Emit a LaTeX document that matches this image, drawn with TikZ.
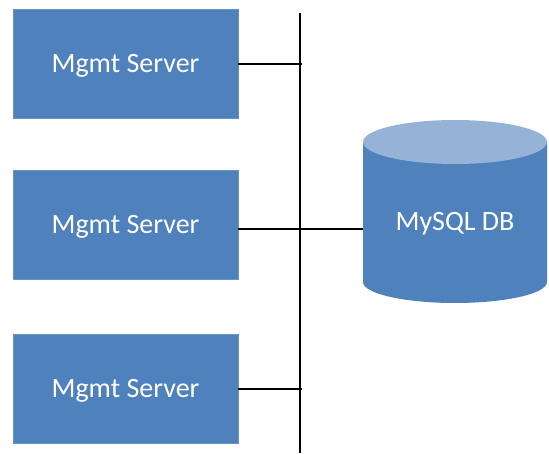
\documentclass[tikz,border=0pt]{standalone}
\usepackage{fontspec}
\setmainfont{Carlito}
\definecolor{boxblue}{HTML}{4F81BD}
\definecolor{topblue}{HTML}{95B3D7}
\begin{document}
\begin{tikzpicture}[x=1pt,y=1pt,
  server/.style={rectangle, fill=boxblue, draw=boxblue!85!white, line width=0.6pt,
    minimum width=225pt, minimum height=109pt, inner sep=0pt,
    text=white, font=\fontsize{28}{30}\selectfont, text height=18pt, text depth=0pt},
  dblabel/.style={text=white, font=\fontsize{28}{30}\selectfont, text height=18pt, text depth=0pt, inner sep=0pt},
  wire/.style={black, line width=1.3pt}]
\useasboundingbox (0,0) rectangle (549,453);
% servers
\node[server] (s1) at (125.5,389.5) {Mgmt Server};
\node[server] (s2) at (125.5,228) {Mgmt Server};
\node[server] (s3) at (125.5,64.5) {Mgmt Server};
% bus
\coordinate (bustop) at (300,440);
\coordinate (busbot) at (300,0);
\draw[wire] (bustop) -- (busbot);
\coordinate (j1) at (302,389);
\coordinate (j3) at (302,64);
\coordinate (dbw) at (363,224);
% cylinder
\fill[boxblue] (363,311) -- (363,171) arc[start angle=180,end angle=360,x radius=92pt,y radius=21pt] -- (547,311) -- cycle;
\fill[topblue] (455,311) ellipse[x radius=92pt,y radius=22pt];
\node[dblabel] (db) at (455,231.5) {MySQL DB};
% connectors
\draw[wire] (s1.east |- j1) -- (j1);
\draw[wire] (s2.east |- dbw) -- (dbw);
\draw[wire] (s3.east |- j3) -- (j3);
\end{tikzpicture}
\end{document}
